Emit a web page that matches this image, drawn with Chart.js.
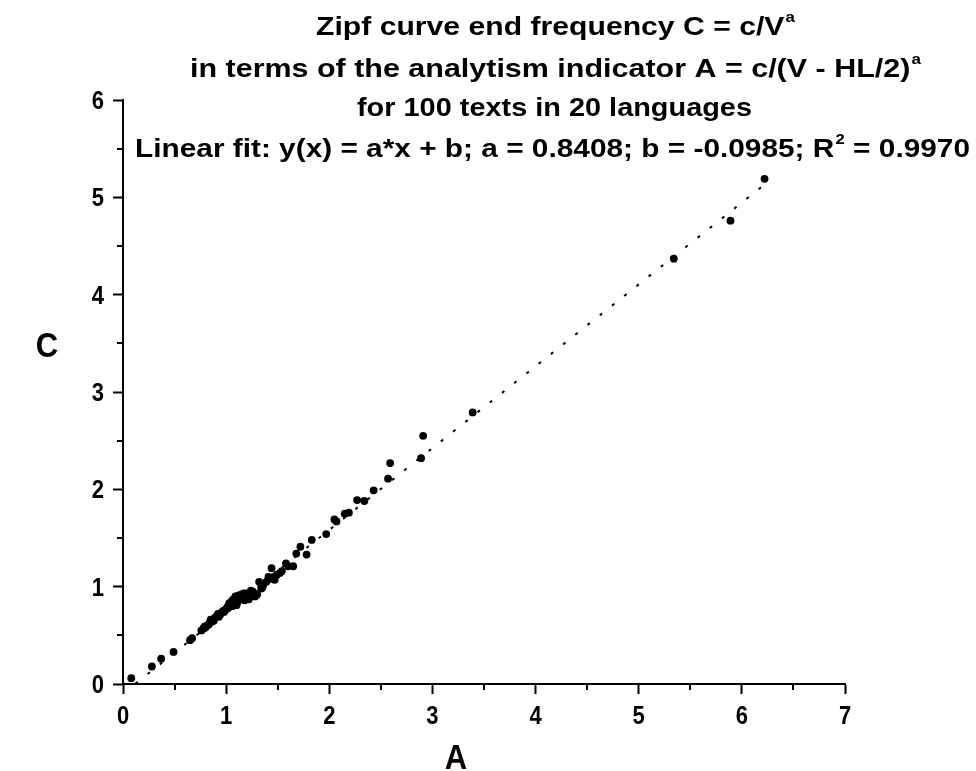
<!DOCTYPE html>
<html>
<head>
<meta charset="utf-8">
<script src="https://cdn.jsdelivr.net/npm/chart.js@4/dist/chart.umd.min.js"></script>
<style>
html,body{margin:0;padding:0;background:#fff;}
#wrap{width:976px;height:771px;position:relative;}
</style>
</head>
<body>
<div id="wrap"><canvas id="c" width="976" height="771"></canvas></div>
<script>
// ---- data ----
const valuesA = [
 0.08,0.28,0.37,0.49,0.65,0.67,
 0.76,0.78,0.80,0.81,0.83,0.84,0.86,0.87,0.88,0.89,0.91,0.92,0.94,0.95,0.97,0.98,
 1.00,1.01,1.02,1.04,1.05,1.06,1.07,1.08,1.10,1.11,1.12,1.13,1.15,1.16,1.17,1.18,
 1.20,1.21,1.23,1.24,1.26,1.28,1.30,1.32,1.34,1.35,1.39,1.42,1.44,1.46,1.47,1.49,
 1.54,1.58,1.60,1.65,1.68,1.72,1.78,1.83,
 1.97,2.05,2.07,2.15,2.19,2.27,2.34,2.43,2.57,2.59,2.89,2.91,3.39,5.34,5.89,6.22,
 0.93,0.99,1.03,1.06,1.09,1.11,1.14,1.19,1.22,1.25,1.27,1.36,1.41,1.52,0.79,0.85
];
const valuesC = [
 0.06,0.18,0.26,0.33,0.45,0.47,
 0.55,0.57,0.58,0.60,0.61,0.63,0.64,0.66,0.65,0.68,0.70,0.72,0.71,0.73,0.75,0.74,
 0.77,0.79,0.78,0.81,0.84,0.80,0.87,0.85,0.81,0.89,0.91,0.88,0.92,0.90,0.93,0.86,
 0.88,0.91,0.92,0.96,0.95,0.90,0.92,1.05,0.98,0.99,1.05,1.08,1.19,1.10,1.07,1.12,
 1.16,1.24,1.21,1.21,1.34,1.41,1.33,1.48,
 1.54,1.69,1.67,1.75,1.76,1.89,1.88,1.99,2.11,2.27,2.32,2.55,2.79,4.37,4.76,5.19,
 0.69,0.76,0.83,0.86,0.90,0.84,0.87,0.93,0.87,0.93,0.92,1.02,1.10,1.14,0.59,0.66
];
const fitSlope = 0.8408;
const fitIntercept = -0.0985;
const fitRangeA = [0.12, 6.22];
const xTicks = [0,1,2,3,4,5,6,7];
const yTicks = [0,1,2,3,4,5,6];

const titleLines = [
  [{t:"Zipf curve end frequency C = c/V"},{t:"a",sup:true}],
  [{t:"in terms of the analytism indicator A = c/(V - HL/2)"},{t:"a",sup:true}],
  [{t:"for 100 texts in 20 languages"}],
  [{t:"Linear fit: y(x) = a*x + b; a = 0.8408; b = -0.0985; R"},{t:"2",sup:true},{t:" = 0.9970"}]
];
const xTitle = "A";
const yTitle = "C";

// ---- chart ----
const points = valuesA.map((a,i)=>({x:a,y:valuesC[i]}));
const fitPoints = fitRangeA.map(a=>({x:a,y:fitSlope*a+fitIntercept}));

const FONT = "'Liberation Sans', Arial, sans-serif";

const decor = {
  id:'decor',
  afterDraw(chart){
    const ctx = chart.ctx;
    const xs = chart.scales.x, ys = chart.scales.y;
    ctx.save();
    // minor ticks
    ctx.strokeStyle = '#000'; ctx.lineWidth = 2;
    for(let i=0;i<xTicks.length-1;i++){
      const px = Math.round(xs.getPixelForValue(xTicks[i]+0.5));
      ctx.beginPath(); ctx.moveTo(px, xs.top); ctx.lineTo(px, xs.top+6); ctx.stroke();
    }
    for(let i=0;i<yTicks.length-1;i++){
      const py = Math.round(ys.getPixelForValue(yTicks[i]+0.5));
      ctx.beginPath(); ctx.moveTo(ys.right, py); ctx.lineTo(ys.right-6, py); ctx.stroke();
    }
    // tick labels (slightly tall glyphs as in the reference)
    ctx.fillStyle = '#000';
    ctx.font = "bold 22px "+FONT;
    ctx.textAlign = 'center'; ctx.textBaseline = 'alphabetic';
    xTicks.forEach(v=>{
      const px = xs.getPixelForValue(v);
      ctx.save(); ctx.translate(px, 724); ctx.scale(1,1.15); ctx.fillText(String(v),0,0); ctx.restore();
    });
    ctx.textAlign = 'right';
    yTicks.forEach(v=>{
      const py = ys.getPixelForValue(v);
      ctx.save(); ctx.translate(104, py+9); ctx.scale(1,1.15); ctx.fillText(String(v),0,0); ctx.restore();
    });
    // titles
    const targets = [[316,795,34.5],[190,921,77],[357,752,116],[135,970,157]];
    titleLines.forEach((segs,li)=>{
      let w = 0;
      segs.forEach(s=>{
        ctx.font = s.sup ? "bold 14px "+FONT : "bold 25px "+FONT;
        s.w = ctx.measureText(s.t).width + (s.sup?1:0);
        w += s.w;
      });
      const [l,r,base] = targets[li];
      const sx = (r-l)/w;
      ctx.save();
      ctx.translate(l, base);
      ctx.scale(sx,1.05);
      let x = 0;
      ctx.textBaseline = 'alphabetic'; ctx.textAlign='left';
      segs.forEach(s=>{
        ctx.font = s.sup ? "bold 14px "+FONT : "bold 25px "+FONT;
        ctx.fillText(s.t, x + (s.sup?1:0), s.sup ? -12 : 0);
        x += s.w;
      });
      ctx.restore();
    });
    // axis titles
    ctx.font = "bold 31px "+FONT;
    ctx.textAlign='center'; ctx.textBaseline='alphabetic';
    ctx.save(); ctx.translate(456, 769); ctx.scale(1.0,1.15); ctx.fillText(xTitle,0,0); ctx.restore();
    ctx.save(); ctx.translate(47, 357); ctx.scale(1.0,1.15); ctx.fillText(yTitle,0,0); ctx.restore();
    ctx.restore();
  }
};

new Chart(document.getElementById('c'), {
  type:'scatter',
  data:{
    datasets:[
      {
        type:'line',
        data: fitPoints,
        borderColor:'#000',
        borderWidth:2,
        borderDash:[3,12.6],
        pointRadius:0,
        fill:false,
        order:2
      },
      {
        data: points,
        backgroundColor:'#000',
        borderColor:'#000',
        pointRadius:3.9,
        pointBorderWidth:0,
        order:1
      }
    ]
  },
  options:{
    responsive:false,
    animation:false,
    devicePixelRatio:1,
    layout:{padding:{top:100,right:131,left:0,bottom:0}},
    plugins:{legend:{display:false},tooltip:{enabled:false},title:{display:false}},
    scales:{
      x:{
        type:'linear', min:0, max:7,
        afterFit(s){ s.height = 87; },
        afterBuildTicks(s){ s.ticks = xTicks.map(v=>({value:v})); },
        border:{display:true,color:'#000',width:2},
        grid:{display:true,drawOnChartArea:false,drawTicks:true,tickLength:10,tickWidth:2,tickColor:'#000'},
        ticks:{display:true,color:'rgba(0,0,0,0)',font:{family:FONT,size:21,weight:'bold'},padding:6,maxRotation:0}
      },
      y:{
        type:'linear', min:0, max:6,
        afterFit(s){ s.width = 123; },
        afterBuildTicks(s){ s.ticks = yTicks.map(v=>({value:v})); },
        border:{display:true,color:'#000',width:2},
        grid:{display:true,drawOnChartArea:false,drawTicks:true,tickLength:10,tickWidth:2,tickColor:'#000'},
        ticks:{display:true,color:'rgba(0,0,0,0)',font:{family:FONT,size:21,weight:'bold'},padding:10}
      }
    }
  },
  plugins:[decor]
});
</script>
</body>
</html>
